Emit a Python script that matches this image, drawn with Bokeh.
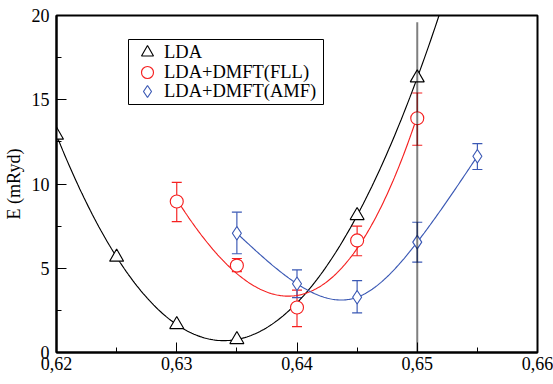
import numpy as np
from bokeh.plotting import figure
from bokeh.models import (FixedTicker, CustomJSTickFormatter, Range1d, Legend, LegendItem,
                          Whisker, TeeHead, ColumnDataSource, Label, BoxAnnotation)
from bokeh.embed import file_html
from bokeh.resources import INLINE

# ---- data ----
lda_z = [0.62, 0.625, 0.63, 0.635, 0.645, 0.65]
lda_e = [12.9, 5.66, 1.66, 0.77, 8.13, 16.3]

fll_z = [0.63, 0.635, 0.64, 0.645, 0.65]
fll_e = [8.96, 5.16, 2.67, 6.65, 13.9]
fll_lo = [7.77, 4.80, 1.54, 5.74, 12.3]
fll_hi = [10.1, 5.58, 3.70, 7.50, 15.4]

amf_z = [0.635, 0.64, 0.645, 0.65, 0.655]
amf_e = [7.08, 4.08, 3.28, 6.55, 11.65]
amf_lo = [5.86, 3.26, 2.35, 5.36, 10.86]
amf_hi = [8.33, 4.90, 4.27, 7.73, 12.40]

marker_z = [0.65]
marker_bottom = [0.0]
marker_top = [19.6]

series_labels = ["LDA", "LDA+DMFT(FLL)", "LDA+DMFT(AMF)"]

x_ticks = [0.62, 0.63, 0.64, 0.65, 0.66]
x_minor = [0.625, 0.635, 0.645, 0.655]
y_ticks = [0, 5, 10, 15, 20]
y_minor = [2.5, 7.5, 12.5, 17.5]

FONT = "'Liberation Serif'"
RED = "#f52020"
BLUE = "#3a58b4"
LW = 1.15


def polyfit_curve(x, y, deg, x0, x1, n=200):
    x = np.asarray(x); y = np.asarray(y)
    u = (x - 0.64) * 100
    c = np.polyfit(u, y, deg)
    xs = np.linspace(x0, x1, n)
    return xs, np.polyval(c, (xs - 0.64) * 100)


def natural_spline(x, y, n=200):
    x = (np.asarray(x) - 0.64) * 100
    y = np.asarray(y, dtype=float)
    m = len(x)
    h = np.diff(x)
    A = np.zeros((m, m)); b = np.zeros(m)
    A[0, 0] = 1; A[-1, -1] = 1
    for i in range(1, m - 1):
        A[i, i - 1] = h[i - 1]
        A[i, i] = 2 * (h[i - 1] + h[i])
        A[i, i + 1] = h[i]
        b[i] = 3 * ((y[i + 1] - y[i]) / h[i] - (y[i] - y[i - 1]) / h[i - 1])
    c = np.linalg.solve(A, b)
    xs = np.linspace(x[0], x[-1], n)
    ys = np.empty_like(xs)
    for k, xv in enumerate(xs):
        i = min(np.searchsorted(x, xv, side="right") - 1, m - 2)
        i = max(i, 0)
        bi = (y[i + 1] - y[i]) / h[i] - h[i] * (2 * c[i] + c[i + 1]) / 3
        di = (c[i + 1] - c[i]) / (3 * h[i])
        t = xv - x[i]
        ys[k] = y[i] + bi * t + c[i] * t * t + di * t ** 3
    return xs / 100 + 0.64, ys


p = figure(width=553, height=384, output_backend="svg", toolbar_location=None,
           x_range=Range1d(0.62, 0.66), y_range=Range1d(0, 20),
           min_border_left=55, min_border_right=16, min_border_top=15, min_border_bottom=32)
p.grid.visible = False
p.outline_line_color = "black"
p.outline_line_width = 2
p.background_fill_color = "white"
p.border_fill_color = "white"

for ax in (p.xaxis[0], p.yaxis[0]):
    ax.axis_line_width = 2
    ax.axis_line_color = "black"
    ax.major_tick_in = 10
    ax.major_tick_out = 0
    ax.minor_tick_in = 5
    ax.minor_tick_out = 0
    ax.major_tick_line_width = 1
    ax.minor_tick_line_width = 1
    ax.major_label_text_font = FONT
    ax.major_label_text_font_size = "18px"
    ax.major_label_text_color = "black"
    ax.axis_label_text_font = FONT
    ax.axis_label_text_font_size = "18px"
    ax.axis_label_text_font_style = "normal"
    ax.axis_label_text_color = "black"

p.xaxis[0].ticker = FixedTicker(ticks=x_ticks, minor_ticks=x_minor)
p.xaxis[0].formatter = CustomJSTickFormatter(code="return tick.toFixed(2).replace('.', ',');")
p.xaxis[0].major_label_standoff = 4
p.yaxis[0].ticker = FixedTicker(ticks=y_ticks, minor_ticks=y_minor)
p.yaxis[0].major_label_standoff = 7
p.yaxis[0].axis_label = "E (mRyd)"
p.yaxis[0].axis_label_standoff = 5

# curves
lx, ly = polyfit_curve(lda_z, lda_e, 4, 0.62, 0.655)
p.line(lx, ly, line_color="black", line_width=LW)
fx, fy = polyfit_curve(fll_z, fll_e, 3, fll_z[0], fll_z[-1])
p.line(fx, fy, line_color=RED, line_width=LW)
ax_, ay_ = natural_spline(amf_z, amf_e)
p.line(ax_, ay_, line_color=BLUE, line_width=LW)

# error bars
fsrc = ColumnDataSource(dict(x=fll_z, lo=fll_lo, hi=fll_hi))
asrc = ColumnDataSource(dict(x=amf_z, lo=amf_lo, hi=amf_hi))
for src, col in ((fsrc, RED), (asrc, BLUE)):
    w = Whisker(source=src, base="x", lower="lo", upper="hi", dimension="height",
                line_color=col, line_width=LW,
                upper_head=TeeHead(size=10, line_color=col, line_width=LW),
                lower_head=TeeHead(size=10, line_color=col, line_width=LW))
    p.add_layout(w)

# markers
r_lda = p.scatter(lda_z, lda_e, marker="triangle", size=14, line_color="black",
                  fill_color="white", line_width=LW)
r_fll = p.scatter(fll_z, fll_e, marker="circle", size=13, line_color=RED,
                  fill_color="white", line_width=LW)
r_amf = p.scatter(amf_z, amf_e, marker="diamond", size=13.5,
                  line_color=BLUE, fill_color="white", line_width=LW)

# vertical marker line
p.segment(x0=marker_z, y0=marker_bottom, x1=marker_z, y1=marker_top,
          line_color="black", line_alpha=0.5, line_width=2)

# x label
p.add_layout(Label(x=0.64, y=-12, x_units="data", y_units="screen", text="z",
                   text_font=FONT, text_font_size="18px", text_align="center",
                   text_baseline="top", text_color="black"))

# ---- legend box ----
p.add_layout(BoxAnnotation(left=72, right=267, bottom=248, top=313,
                           left_units="screen", right_units="screen",
                           bottom_units="screen", top_units="screen",
                           fill_color="white", fill_alpha=1,
                           line_color="black", line_width=1, line_alpha=1))

# ---- legend rows (one legend per row, so symbols stay full size) ----
row_y = [285, 265, 246]
for r, lab, yy in zip((r_lda, r_fll, r_amf), series_labels, row_y):
    lg = Legend(items=[LegendItem(label=lab, renderers=[r])], location=(76, yy))
    lg.label_text_font = FONT
    lg.label_text_font_size = "18.5px"
    lg.label_text_color = "black"
    lg.glyph_width = 30
    lg.glyph_height = 30
    lg.label_height = 30
    lg.label_standoff = 2
    lg.padding = 0
    lg.margin = 0
    lg.spacing = 0
    lg.border_line_alpha = 0
    lg.background_fill_alpha = 0
    p.add_layout(lg, "center")

open("out.html", "w").write(file_html(p, INLINE))
